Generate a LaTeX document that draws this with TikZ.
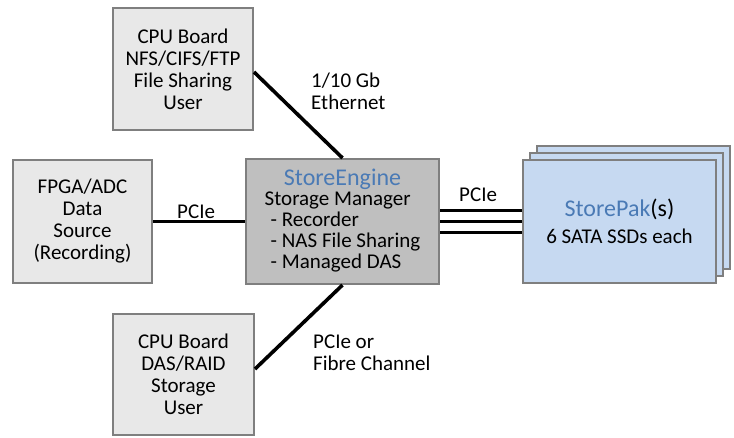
\documentclass[tikz,border=0pt]{standalone}
\usepackage{fontspec}
\setmainfont{Carlito}
\definecolor{boxgray}{HTML}{E8E8E8}
\definecolor{segray}{HTML}{BFBFBF}
\definecolor{bordergray}{HTML}{7F7F7F}
\definecolor{pakblue}{HTML}{C6D9F1}
\definecolor{titleblue}{HTML}{4A7AB5}
\begin{document}
\begin{tikzpicture}[x=1pt,y=-1pt,
  box/.style={draw=bordergray, line width=2pt, fill=boxgray, align=center,
    font=\fontsize{21}{22}\selectfont, inner sep=0pt},
  pak/.style={box, fill=pakblue, minimum width=193pt, minimum height=123pt},
  link/.style={line width=3.6pt, black},
  lbl/.style={font=\fontsize{21}{22}\selectfont, inner sep=0pt, align=left}]
\useasboundingbox (0,0) rectangle (734,437);

\node[box, minimum width=140pt, minimum height=122pt] (top) at (183,69)
  {CPU Board\\NFS/CIFS/FTP\\File Sharing\\User};
\node[box, minimum width=139pt, minimum height=123pt] (fpga) at (82.5,221.5)
  {FPGA/ADC\\Data\\Source\\(Recording)};
\node[box, minimum width=141pt, minimum height=121pt] (bot) at (183.5,374.5)
  {CPU Board\\DAS/RAID\\Storage\\User};
\node[box, fill=segray, minimum width=193pt, minimum height=125pt] (se) at (342.5,221.5)
  {\fontsize{21}{20.5}\selectfont
   \begin{tabular}{@{}l@{}}
   \multicolumn{1}{@{}c@{}}{\fontsize{24}{20.5}\selectfont\textcolor{titleblue}{StoreEngine}}\\
   Storage Manager\\
   \hspace{6pt}- Recorder\\
   \hspace{6pt}- NAS File Sharing\\
   \hspace{6pt}- Managed DAS
   \end{tabular}};

\node[pak] (pak3) at (633.5,207.5) {};
\node[pak] (pak2) at (626.5,214.5) {};
\node[pak, font=\fontsize{21}{27}\selectfont] (pak1) at (619.5,221.5)
  {{\fontsize{24}{27}\selectfont\textcolor{titleblue}{StorePak}(s)}\\6 SATA SSDs each};

\draw[link] ([yshift=-3pt]top.east) -- (se.north);
\draw[link] (fpga.east) -- (se.west);
\draw[link] ([yshift=5.5pt]bot.east) -- (se.south);
\draw[link] ([yshift=11pt]se.east) -- ([yshift=11pt]pak1.west);
\draw[link] (se.east) -- (pak1.west);
\draw[link] ([yshift=-11pt]se.east) -- ([yshift=-11pt]pak1.west);

\node[lbl, anchor=base west] (eth) at (311,109) {1/10 Gb\\Ethernet};
\node[lbl, anchor=base west] (pcieL) at (177,218) {PCIe};
\node[lbl, anchor=base west] (pcieR) at (459,201) {PCIe};
\node[lbl, anchor=base west] (fc) at (313,370) {PCIe or\\Fibre Channel};
\end{tikzpicture}
\end{document}
